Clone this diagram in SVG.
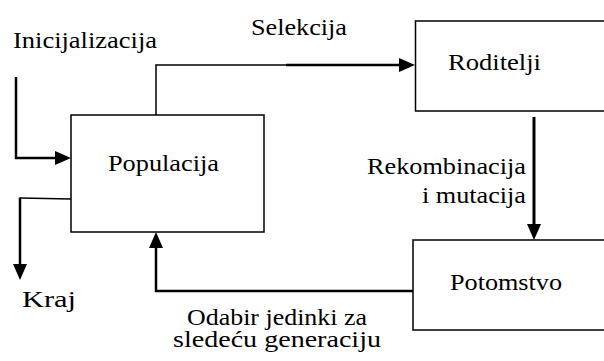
<svg xmlns="http://www.w3.org/2000/svg" width="604" height="361" viewBox="0 0 604 361">
<style>
text{font-family:'Liberation Serif','Times New Roman',serif;font-size:24px;fill:#000}
.box{fill:#fff;stroke:#000;stroke-width:1.5}
.thin{fill:none;stroke:#000;stroke-width:1.5}
.thick{fill:none;stroke:#000;stroke-width:2.5}
</style>
<defs>
<marker id="ah" markerUnits="userSpaceOnUse" viewBox="0 0 16 14" refX="8" refY="7" markerWidth="16" markerHeight="14" orient="auto">
<path d="M0,0 L16,7 L0,14 z" fill="#000"/>
</marker>
</defs>
<rect width="604" height="361" fill="#fff"/>
<g id="connectors">
<path class="thick" d="M16,77 V158 H63" marker-end="url(#ah)"/>
<path class="thin" d="M156,115 V65 H287"/>
<path class="thick" d="M286,65 H407" marker-end="url(#ah)"/>
<path class="thick" style="stroke-width:3" d="M534,117 V232" marker-end="url(#ah)"/>
<path class="thin" d="M71,199 L20,198"/>
<path class="thick" d="M20,197.5 V272" marker-end="url(#ah)"/>
<path class="thick" d="M413,291 H156 V240" marker-end="url(#ah)"/>
</g>
<g id="populacija">
<rect class="box" x="71" y="115" width="193" height="117"/>
<text x="108" y="171" textLength="111" lengthAdjust="spacingAndGlyphs">Populacija</text>
</g>
<g id="roditelji">
<rect class="box" x="415.5" y="21" width="240" height="90"/>
<text x="448" y="70" textLength="93" lengthAdjust="spacingAndGlyphs">Roditelji</text>
</g>
<g id="potomstvo">
<rect class="box" x="413" y="240" width="240" height="90"/>
<text x="450" y="290" textLength="112" lengthAdjust="spacingAndGlyphs">Potomstvo</text>
</g>
<g id="labels">
<text x="13" y="48" textLength="144" lengthAdjust="spacingAndGlyphs">Inicijalizacija</text>
<text x="251" y="35" textLength="96" lengthAdjust="spacingAndGlyphs">Selekcija</text>
<text x="367" y="174" textLength="159" lengthAdjust="spacingAndGlyphs">Rekombinacija</text>
<text x="422" y="203" textLength="104" lengthAdjust="spacingAndGlyphs">i mutacija</text>
<text x="22" y="307" textLength="54" lengthAdjust="spacingAndGlyphs">Kraj</text>
<text x="187" y="324.5" font-size="22" textLength="180" lengthAdjust="spacingAndGlyphs">Odabir jedinki za</text>
<text x="173" y="347" font-size="22" textLength="208" lengthAdjust="spacingAndGlyphs">sledeću generaciju</text>
</g>
</svg>
